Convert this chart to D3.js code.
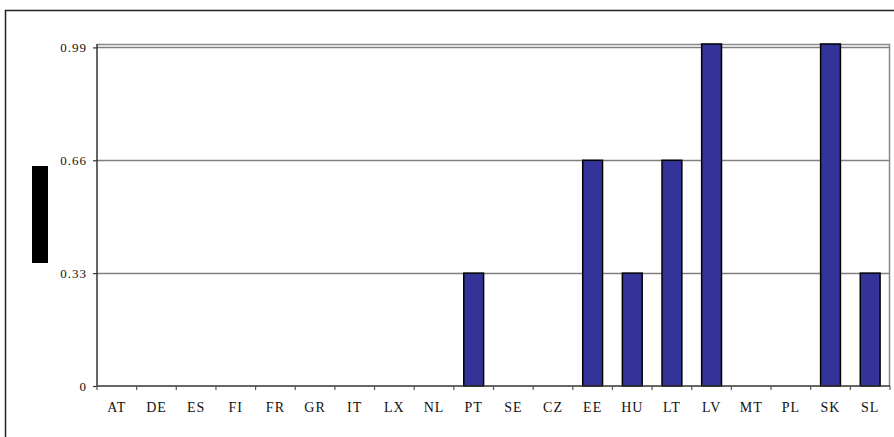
<!DOCTYPE html>
<html>
<head>
<meta charset="utf-8">
<script src="https://cdn.jsdelivr.net/npm/d3@7"></script>
<style>
  html, body { margin: 0; padding: 0; background: #fff; }
  svg { display: block; }
  .tick text { font-family: "Liberation Serif", "Times New Roman", serif; fill: #111; letter-spacing: 1px; }
  .y-axis .tick text { font-size: 13px; }
  .x-axis .tick text { font-size: 14px; }
</style>
</head>
<body>
<svg id="chart" width="894" height="437"></svg>
<script>
// Country codes along the x axis
const countries = ["AT","DE","ES","FI","FR","GR","IT","LX","NL","PT","SE","CZ","EE","HU","LT","LV","MT","PL","SK","SL"];
// Score per country
const scores = [0,0,0,0,0,0,0,0,0,0.33,0,0,0.66,0.33,0.66,1,0,0,1,0.33];
// Y axis ticks and their labels
const yTicks = [0, 0.33, 0.66, 0.99];
const yTickLabels = ["0", "0.33", "0.66", "0.99"];

const svg = d3.select("#chart");
const W = 894, H = 437;
const plot = { left: 97, right: 890, top: 44, bottom: 386 };

// Outer chart frame
svg.append("rect")
  .attr("x", 5.5).attr("y", 10.5)
  .attr("width", W + 10).attr("height", H + 10)
  .attr("fill", "none").attr("stroke", "#222").attr("stroke-width", 1.5);

const x = d3.scaleBand().domain(countries).range([plot.left, plot.right]).paddingInner(0.5).paddingOuter(0.25);
const xEdges = d3.scaleLinear().domain([0, countries.length]).range([plot.left, plot.right]);
const y = d3.scaleLinear().domain([0, 1]).range([plot.bottom, plot.top]);

// Plot area border (top and right)
svg.append("path")
  .attr("d", `M${plot.left},${plot.top + 0.5}H${plot.right - 0.5}V${plot.bottom}`)
  .attr("fill", "none").attr("stroke", "#888").attr("stroke-width", 1.5);

// Horizontal gridlines
svg.append("g").selectAll("line")
  .data(yTicks.filter(d => d > 0))
  .join("line")
  .attr("x1", plot.left).attr("x2", plot.right)
  .attr("y1", d => Math.round(y(d)) + 0.5).attr("y2", d => Math.round(y(d)) + 0.5)
  .attr("stroke", "#808080").attr("stroke-width", 1.5);

// Bars
svg.append("g").selectAll("rect")
  .data(countries.map((c, i) => ({ c, v: scores[i] })).filter(d => d.v > 0))
  .join("rect")
  .attr("x", d => x(d.c))
  .attr("width", x.bandwidth())
  .attr("y", d => y(d.v))
  .attr("height", d => y(0) - y(d.v))
  .attr("fill", "#333399")
  .attr("stroke", "#000").attr("stroke-width", 1.5);

// Y axis
const yAxis = d3.axisLeft(y)
  .tickValues(yTicks)
  .tickFormat((d, i) => yTickLabels[i])
  .tickSize(4).tickPadding(6);
const gy = svg.append("g").attr("class", "y-axis").attr("transform", `translate(${plot.left},0)`).call(yAxis);
gy.select(".domain").attr("stroke", "#333").attr("stroke-width", 1.5).attr("d", `M0,${plot.top}V${plot.bottom}`);
gy.selectAll(".tick line").attr("stroke", "#333").attr("stroke-width", 1.2);

// X axis: ticks sit on the category boundaries
const gx = svg.append("g").attr("transform", `translate(0,${plot.bottom})`);
gx.append("line")
  .attr("x1", plot.left).attr("x2", plot.right)
  .attr("stroke", "#333").attr("stroke-width", 1.5);
gx.selectAll("line.edge")
  .data(d3.range(countries.length + 1))
  .join("line")
  .attr("class", "edge")
  .attr("x1", d => xEdges(d)).attr("x2", d => xEdges(d))
  .attr("y1", 0).attr("y2", 4)
  .attr("stroke", "#555").attr("stroke-width", 1.2);
const xAxis = d3.axisBottom(x).tickSize(0).tickPadding(16);
const gxl = svg.append("g").attr("class", "x-axis").attr("transform", `translate(0,${plot.bottom})`).call(xAxis);
gxl.select(".domain").remove();

// Y axis title block
svg.append("rect")
  .attr("x", 32).attr("y", 166)
  .attr("width", 16).attr("height", 97)
  .attr("fill", "#000");
</script>
</body>
</html>
